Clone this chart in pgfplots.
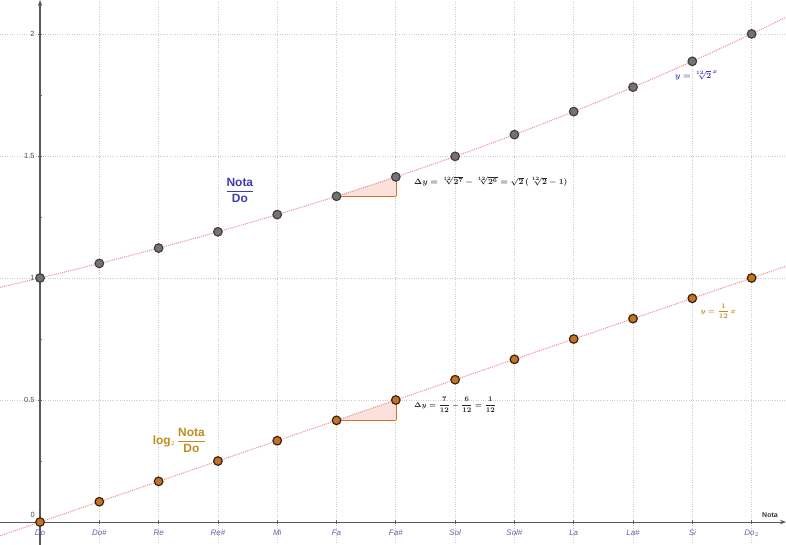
\documentclass[border=0pt]{standalone}
\usepackage{pgfplots}
\pgfplotsset{compat=1.18}
\usetikzlibrary{arrows.meta}
\usepackage{amsmath}
\usepackage{fontspec}
\setmainfont{Liberation Sans}
\definecolor{curvered}{RGB}{240,140,140}
\definecolor{ptgray}{RGB}{115,115,115}
\definecolor{ptorange}{RGB}{195,115,40}
\definecolor{blutext}{RGB}{60,60,175}
\definecolor{goldtext}{RGB}{190,140,30}
\definecolor{trifill}{RGB}{250,225,220}
\definecolor{triline}{RGB}{225,110,40}
\definecolor{ticklab}{RGB}{95,95,175}
\begin{document}
\begin{tikzpicture}
\begin{axis}[
  scale only axis, width=786bp, height=545bp,
  xmin=-0.675, xmax=12.58, ymin=-0.094, ymax=2.139,
  axis lines=middle,
  axis line style={draw=black!65, line width=1.1pt, -{Stealth[length=6pt]}},
  hide obscured x ticks=false,
  xtick={0,1,2,3,4,5,6,7,8,9,10,11,12},
  xticklabels={Do,Do\#,Re,Re\#,Mi,Fa,Fa\#,Sol,Sol\#,La,La\#,Si,Do$_2$},
  x tick label style={font=\fontsize{8}{9}\selectfont\itshape, text=ticklab, yshift=-2pt},
  ytick={0.5,1,1.5,2},
  yticklabels={0.5,1,1.5,2},
  minor ytick={0.25,0.75,1.25,1.75},
  y tick label style={font=\fontsize{7.5}{9}\selectfont, text=black!70},
  tick style={draw=black!60, line width=0.8pt},
  major tick length=4pt, minor tick length=3pt,
  grid=major,
  major grid style={dotted, draw=gray!40, line width=0.7pt},
  clip=false,
]
% triangles
\addplot[fill=trifill, draw=none] coordinates {(5,1.3348) (6,1.3348) (6,1.4142)} -- cycle;
\addplot[fill=trifill, draw=none] coordinates {(5,0.41667) (6,0.41667) (6,0.5)} -- cycle;
\addplot[triline, line width=1pt] coordinates {(5,1.3348) (6,1.3348)};
\addplot[triline, line width=0.6pt] coordinates {(6,1.3348) (6,1.4142)};
\addplot[triline, line width=1pt] coordinates {(5,0.41667) (6,0.41667)};
\addplot[triline, line width=0.6pt] coordinates {(6,0.41667) (6,0.5)};
% curves
\addplot[curvered, densely dotted, line width=1pt, smooth] coordinates {
 (-0.675,0.9618) (0,1) (1,1.0595) (2,1.1225) (3,1.1892) (4,1.2599) (5,1.3348) (6,1.4142)
 (7,1.4983) (8,1.5874) (9,1.6818) (10,1.7818) (11,1.8877) (12,2) (12.58,2.0683)};
\addplot[curvered, densely dotted, line width=1pt] coordinates {(-0.675,-0.05625) (12.58,1.04833)};
% points
\addplot[only marks, mark=*, mark size=4.3pt, mark options={fill=ptgray, draw=black!75, line width=1.2pt}] coordinates {
 (0,1) (1,1.0595) (2,1.1225) (3,1.1892) (4,1.2599) (5,1.3348) (6,1.4142)
 (7,1.4983) (8,1.5874) (9,1.6818) (10,1.7818) (11,1.8877) (12,2)};
\addplot[only marks, mark=*, mark size=4.3pt, mark options={fill=ptorange, draw=black!70!ptorange, line width=1.2pt}] coordinates {
 (0,0) (1,0.08333) (2,0.16667) (3,0.25) (4,0.33333) (5,0.41667) (6,0.5)
 (7,0.58333) (8,0.66667) (9,0.75) (10,0.83333) (11,0.91667) (12,1)};
% labels
\node[text=blutext, font=\bfseries\fontsize{12}{14}\selectfont] at (axis cs:3.37,1.36) {$\dfrac{\textbf{Nota}}{\textbf{Do}}$};
\node[text=goldtext, font=\bfseries\fontsize{12}{14}\selectfont] at (axis cs:2.35,0.335) {log{\fontsize{9}{10}\selectfont$_2$}\,$\dfrac{\textbf{Nota}}{\textbf{Do}}$};
\node[anchor=west, font=\fontsize{8.5}{10}\selectfont\boldmath, text=black!85] at (axis cs:6.25,1.395) {$\Delta y=\sqrt[12]{2^{7}}-\sqrt[12]{2^{6}}=\sqrt{2}\,(\sqrt[12]{2}-1)$};
\node[anchor=west, font=\fontsize{7.5}{9}\selectfont\boldmath, text=black!85] at (axis cs:6.25,0.48) {$\Delta y=\dfrac{7}{12}-\dfrac{6}{12}=\dfrac{1}{12}$};
\node[anchor=west, font=\fontsize{8.5}{10}\selectfont\boldmath, text=blutext] at (axis cs:10.65,1.83) {$y=\sqrt[12]{2}^{\,x}$};
\node[anchor=west, font=\fontsize{7.5}{9}\selectfont\boldmath, text=goldtext] at (axis cs:11.08,0.865) {$y=\dfrac{1}{12}\,x$};
\node[anchor=south east, font=\bfseries\fontsize{7}{8}\selectfont, text=black!80] at (axis cs:12.5,0.005) {Nota};
\node[anchor=south east, font=\fontsize{7.5}{9}\selectfont, text=black!70] at (axis cs:-0.03,0.005) {0};
\end{axis}
\pgfresetboundingbox
\path (current axis.south west) rectangle (current axis.north east);
\end{tikzpicture}
\end{document}
